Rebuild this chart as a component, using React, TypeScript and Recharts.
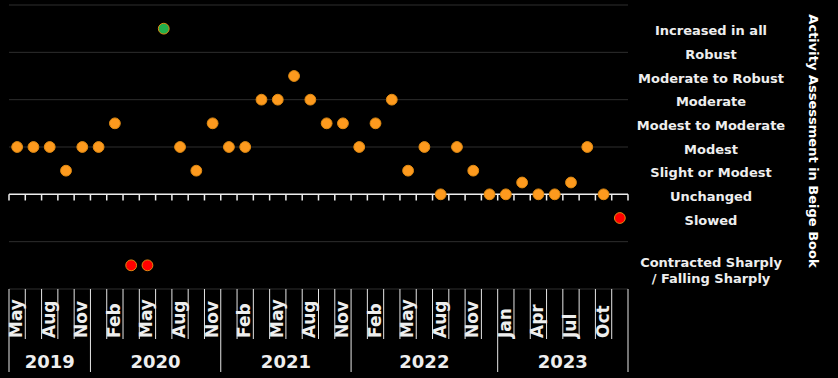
import React from 'react';
import { ScatterChart, Scatter, XAxis, YAxis, ReferenceLine, Label } from 'recharts';

// one entry per Beige Book report, May 2019 -> Nov 2023
const assessment = [2, 2, 2, 1, 2, 2, 3, -3, -3, 7, 2, 1, 3, 2, 2, 4, 4, 5, 4, 3, 3, 2, 3, 4, 1, 2, 0, 2, 1, 0, 0, 0.5, 0, 0, 0.5, 2, 0, -1];

const monthLabels = [
  'May', '', 'Aug', '', 'Nov', '', 'Feb', '', 'May', '', 'Aug', '', 'Nov', '',
  'Feb', '', 'May', '', 'Aug', '', 'Nov', '', 'Feb', '', 'May', '', 'Aug', '', 'Nov', '',
  'Jan', '', 'Apr', '', 'Jul', '', 'Oct', '',
];

const years = ['2019', '2020', '2021', '2022', '2023'];
const reportsPerYear = [5, 8, 8, 9, 8];

const levelValues = [7, 6, 5, 4, 3, 2, 1, 0, -1, -3];
const levelNames = [
  'Increased in all', 'Robust', 'Moderate to Robust', 'Moderate', 'Modest to Moderate',
  'Modest', 'Slight or Modest', 'Unchanged', 'Slowed', 'Contracted Sharply|/ Falling Sharply',
];
const gridValues = [8, 6, 4, 2, -2, -4];

const FONT = '"DejaVu Sans", Verdana, sans-serif';
const TEXT = '#eeeeee';

const points = assessment.map((y, i) => ({ x: i, y }));
const n = assessment.length;

// year boundaries (in report index units) and centres
const yearStarts: number[] = [];
const yearCenters: number[] = [];
let acc = 0;
reportsPerYear.forEach((c) => {
  yearStarts.push(acc);
  yearCenters.push(acc + c / 2 - 0.5);
  acc += c;
});
yearStarts.push(acc);

const boundaries = Array.from({ length: n + 1 }, (_, k) => k - 0.5);
const xTicks = Array.from({ length: 2 * n + 1 }, (_, k) => k / 2 - 0.5);

const dotColor = (v: number) => (v >= 7 ? '#22b04c' : v < 0 ? '#ff0000' : '#fd9a1e');

const Dot = (props: any) => {
  const { cx, cy, payload } = props;
  return <circle cx={cx} cy={cy} r={5.4} fill={dotColor(payload.y)} stroke="#e08a12" strokeWidth={1} />;
};

const XTick = (props: any) => {
  const { x, y, payload } = props;
  const v = payload.value;
  const out: React.ReactNode[] = [];
  const k = v + 0.5;
  if (Number.isInteger(k)) {
    const isYear = yearStarts.includes(k);
    out.push(<line key="l" x1={x} x2={x} y1={y} y2={y + (isYear ? 83 : 50)} stroke="#e6e6e6" strokeWidth={1} />);
  }
  if (Number.isInteger(v) && monthLabels[v]) {
    out.push(
      <text key="m" x={x} y={y + 49} dy={5} transform={`rotate(-90, ${x}, ${y + 49})`} textAnchor="start"
        fill={TEXT} fontFamily={FONT} fontWeight="bold" fontSize={17}>
        {monthLabels[v]}
      </text>
    );
  }
  const yi = yearCenters.indexOf(v);
  if (yi >= 0) {
    out.push(
      <text key="y" x={x} y={y + 79} textAnchor="middle" fill={TEXT} fontFamily={FONT} fontWeight="bold" fontSize={18}>
        {years[yi]}
      </text>
    );
  }
  return <g>{out}</g>;
};

const YTick = (props: any) => {
  const { x, y, payload } = props;
  const idx = levelValues.indexOf(payload.value);
  const lines = (levelNames[idx] || '').split('|');
  const cx = x + 83;
  return (
    <text x={cx} y={y + (lines.length > 1 ? -3 : 2)} textAnchor="middle" fill={TEXT} fontFamily={FONT} fontWeight="bold" fontSize={13}>
      {lines.map((t, i) => (
        <tspan key={i} x={cx} dy={i === 0 ? '0.35em' : 16}>{t}</tspan>
      ))}
    </text>
  );
};

const Title = (props: any) => {
  const vb = props.viewBox || { x: 628, y: 5, width: 210, height: 284 };
  const cx = vb.x + vb.width - 25;
  const cy = vb.y + vb.height / 2 - 6;
  return (
    <text x={cx} y={cy} transform={`rotate(90, ${cx}, ${cy})`} textAnchor="middle" dominantBaseline="central"
      fill="#ffffff" fontFamily={FONT} fontWeight="bold" fontSize={13}>
      Activity Assessment in Beige Book
    </text>
  );
};

export default function App() {
  return (
    <div style={{ position: 'absolute', left: 0, top: 0, width: 838, height: 378, background: '#000' }}>
      <ScatterChart width={838} height={378} margin={{ top: 5, right: 0, left: 9, bottom: 0 }}>
        <XAxis
          type="number"
          dataKey="x"
          domain={[-0.5, n - 0.5]}
          ticks={xTicks}
          interval={0}
          height={89}
          axisLine={false}
          tickLine={false}
          tickSize={0}
          tickMargin={0}
          tick={<XTick />}
        />
        <YAxis
          type="number"
          dataKey="y"
          orientation="right"
          domain={[-4, 8]}
          ticks={levelValues}
          interval={0}
          width={210}
          axisLine={false}
          tickLine={false}
          tickSize={0}
          tickMargin={0}
          tick={<YTick />}
          label={<Label content={<Title />} />}
        />
        {gridValues.map((g) => (
          <ReferenceLine key={g} y={g} stroke="#2e2e2e" strokeWidth={1} />
        ))}
        <ReferenceLine y={0} stroke="#eeeeee" strokeWidth={1.5} />
        {boundaries.map((b) => (
          <ReferenceLine key={'t' + b} segment={[{ x: b, y: 0 }, { x: b, y: -0.26 }]} stroke="#eeeeee" strokeWidth={1.5} />
        ))}
        <Scatter data={points} isAnimationActive={false} shape={<Dot />} />
      </ScatterChart>
    </div>
  );
}
